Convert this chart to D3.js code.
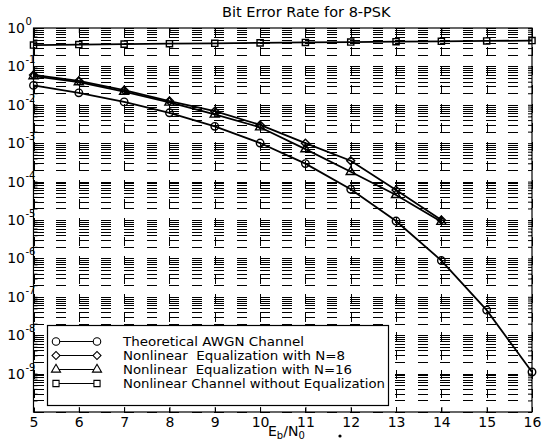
<!DOCTYPE html>
<html><head><meta charset="utf-8">
<script src="https://cdn.jsdelivr.net/npm/d3@7/dist/d3.min.js"></script>
<style>
html,body{margin:0;padding:0;background:#fff;}
svg{display:block;font-family:"DejaVu Sans",Arial,sans-serif;}
</style></head><body>
<svg id="chart" width="544" height="447"></svg>
<script>
// Eb/N0 values (dB)
const ebno = [5, 6, 7, 8, 9, 10, 11, 12, 13, 14, 15, 16];
const ebnoEq = [5, 6, 7, 8, 9, 10, 11, 12, 13, 14];

// Bit error rates
const berTheory = [3.2e-2, 2.05e-2, 1.19e-2, 6.2e-3, 2.75e-3, 1.01e-3, 2.94e-4, 6.3e-5, 9.4e-6, 8.8e-7, 4.5e-8, 1.1e-9];
const berN8 = [6.0e-2, 4.2e-2, 2.4e-2, 1.25e-2, 6.8e-3, 3.0e-3, 1.0e-3, 3.5e-4, 6.0e-5, 1.0e-5];
const berN16 = [5.6e-2, 3.9e-2, 2.2e-2, 1.15e-2, 5.6e-3, 2.6e-3, 7.0e-4, 1.8e-4, 4.5e-5, 9.0e-6];
const berNoEq = [0.36, 0.37, 0.38, 0.39, 0.40, 0.41, 0.42, 0.43, 0.44, 0.45, 0.46, 0.47];

// Axis ticks and labels
const xTicks = [5, 6, 7, 8, 9, 10, 11, 12, 13, 14, 15, 16];
const yExponents = [0, -1, -2, -3, -4, -5, -6, -7, -8, -9];
const legendLabels = [
  "Theoretical AWGN Channel",
  "Nonlinear  Equalization with N=8",
  "Nonlinear  Equalization with N=16",
  "Nonlinear Channel without Equalization"
];
const legendWidths = [181, 222, 229, 262];
const titleText = "Bit Error Rate for 8-PSK";

const svg = d3.select("#chart");
const L = 33.5, R = 532, T = 28, B = 412;

const x = d3.scaleLinear().domain([5, 16]).range([L, R]);
const y = d3.scaleLog().domain([1e-10, 1]).range([B, T]);

// grid values: 1..9 x each decade
const gridY = [];
for (let d = -10; d < 0; d++) for (let k = 1; k <= 9; k++) gridY.push(k * Math.pow(10, d));
gridY.push(1);

const plot = svg.append("g");

// dotted grid
plot.append("g").selectAll("line").data(gridY).join("line")
  .attr("x1", L).attr("x2", R)
  .attr("y1", d => Math.round(y(d)) + 0.5).attr("y2", d => Math.round(y(d)) + 0.5)
  .attr("stroke", "#000").attr("stroke-width", 1)
  .attr("stroke-dasharray", "10,12.6")
  .attr("shape-rendering", "crispEdges");

plot.append("g").selectAll("line").data(xTicks).join("line")
  .attr("x1", d => Math.round(x(d)) + 0.5).attr("x2", d => Math.round(x(d)) + 0.5)
  .attr("y1", T).attr("y2", B)
  .attr("stroke", "#000").attr("stroke-width", 1)
  .attr("stroke-dasharray", "9,10")
  .attr("shape-rendering", "crispEdges");

// axes with inward ticks
const xAxisB = d3.axisBottom(x).tickValues(xTicks).tickSizeInner(-5).tickSizeOuter(0).tickPadding(5).tickFormat(d3.format("d"));
const gx = svg.append("g").attr("transform", `translate(0,${B})`).call(xAxisB);
gx.select(".domain").remove();
gx.selectAll("text").attr("font-size", 14).attr("font-family", "DejaVu Sans").attr("fill", "#000");
gx.selectAll("line").attr("stroke", "#000");

const xAxisT = d3.axisTop(x).tickValues(xTicks).tickSizeInner(-5).tickSizeOuter(0).tickFormat("");
const gxt = svg.append("g").attr("transform", `translate(0,${T})`).call(xAxisT);
gxt.select(".domain").remove();

const yAxisL = d3.axisLeft(y).tickValues(gridY).tickSizeInner(-4).tickSizeOuter(0).tickFormat("");
const gyl = svg.append("g").attr("transform", `translate(${L},0)`).call(yAxisL);
gyl.select(".domain").remove();
const yAxisR = d3.axisRight(y).tickValues(gridY).tickSizeInner(-4).tickSizeOuter(0).tickFormat("");
const gyr = svg.append("g").attr("transform", `translate(${R},0)`).call(yAxisR);
gyr.select(".domain").remove();

// y tick labels 10^n
const yl = svg.append("g").attr("fill", "#000");
yExponents.forEach(e => {
  const yy = y(Math.pow(10, e));
  yl.append("text").attr("x", 25).attr("y", yy + 5).attr("text-anchor", "end")
    .attr("font-size", 14).text("10");
  yl.append("text").attr("x", 25.5).attr("y", yy - 3).attr("text-anchor", "start")
    .attr("font-size", 10).text(e === 0 ? "0" : "-" + Math.abs(e));
});

// curves
const series = [
  { xs: ebno, ys: berTheory, sym: "circle" },
  { xs: ebnoEq, ys: berN8, sym: "diamond" },
  { xs: ebnoEq, ys: berN16, sym: "triangle" },
  { xs: ebno, ys: berNoEq, sym: "square" }
];

const line = d3.line().x(d => x(d[0])).y(d => y(d[1]));

function symbolPath(sym) {
  if (sym === "circle") return d3.symbol().type(d3.symbolCircle).size(44)();
  if (sym === "diamond") return d3.symbol().type(d3.symbolSquare).size(32)();
  if (sym === "triangle") return d3.symbol().type(d3.symbolTriangle).size(36)();
  return d3.symbol().type(d3.symbolSquare).size(38)();
}
const rot = sym => sym === "diamond" ? " rotate(45)" : "";

const curves = svg.append("g");
series.forEach(s => {
  const pts = s.xs.map((v, i) => [v, s.ys[i]]);
  curves.append("path").datum(pts).attr("d", line)
    .attr("fill", "none").attr("stroke", "#000").attr("stroke-width", 1.8);
  curves.append("g").selectAll("path").data(pts).join("path")
    .attr("d", symbolPath(s.sym))
    .attr("transform", d => `translate(${x(d[0])},${y(d[1])})${rot(s.sym)}`)
    .attr("fill", "none").attr("stroke", "#000").attr("stroke-width", 1.4);
});

// frame
svg.append("rect").attr("x", L).attr("y", T).attr("width", R - L).attr("height", B - T)
  .attr("fill", "none").attr("stroke", "#000").attr("stroke-width", 1.2);

// legend
const lg = svg.append("g");
lg.append("rect").attr("x", 47.5).attr("y", 325.5).attr("width", 341).attr("height", 80)
  .attr("fill", "#fff").attr("stroke", "#000").attr("stroke-width", 1.2);
const rowY = [341.5, 355.5, 369.5, 383.5];
series.forEach((s, i) => {
  const ry = rowY[i];
  lg.append("line").attr("x1", 56).attr("x2", 97).attr("y1", ry).attr("y2", ry)
    .attr("stroke", "#000").attr("stroke-width", 1.2);
  [56, 97].forEach(px => {
    lg.append("path").attr("d", symbolPath(s.sym))
      .attr("transform", `translate(${px},${ry})${rot(s.sym)}`)
      .attr("fill", "#fff").attr("stroke", "#000").attr("stroke-width", 1.1);
  });
  lg.append("text").attr("x", 123).attr("y", ry + 4.5).attr("font-size", 12)
    .attr("textLength", legendWidths[i]).attr("lengthAdjust", "spacingAndGlyphs")
    .attr("xml:space", "preserve").style("white-space", "pre").text(legendLabels[i]);
});

// title
svg.append("text").attr("x", 222).attr("y", 17).attr("font-size", 14.5).text(titleText);

// x-axis label E_b/N_0
const xl = svg.append("text").attr("x", 268).attr("y", 436).attr("font-size", 14);
xl.append("tspan").text("E");
xl.append("tspan").attr("font-size", 10).attr("dy", 3).text("b");
xl.append("tspan").attr("dy", -3).text("/N");
xl.append("tspan").attr("font-size", 10).attr("dy", 3).text("0");
svg.append("circle").attr("cx", 340).attr("cy", 436).attr("r", 1.6).attr("fill", "#000");
</script>
</body></html>
